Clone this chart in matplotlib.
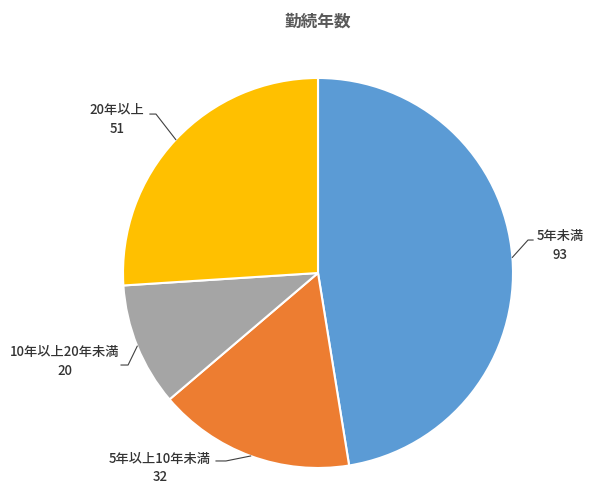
import numpy as np
import matplotlib
matplotlib.use("Agg")
import matplotlib.pyplot as plt

plt.rcParams['font.family'] = ['Noto Sans CJK JP', 'DejaVu Sans']

# data
categories = ['5年未満', '5年以上10年未満', '10年以上20年未満', '20年以上']
counts = [93, 32, 20, 51]
colors = ['#5B9BD5', '#ED7D31', '#A5A5A5', '#FFC000']

# label layout (data coords, pie radius = 1): text centre, elbow, line end at text
label_pos = [(1.24, 0.14), (-0.81, -1.00), (-1.30, -0.455), (-1.03, 0.785)]
elbow_pos = [(1.077, 0.169), (-0.472, -0.964), (-0.974, -0.472), (-0.831, 0.815)]
end_pos = [(1.103, 0.169), (-0.523, -0.964), (-1.010, -0.472), (-0.862, 0.815)]

fig = plt.figure(figsize=(6, 4.92), dpi=100)
fig.text(0.53, 1 - 22 / 492, '勤続年数', ha='center', va='center',
         fontsize=12, fontweight='bold', color='#595959')

ax = fig.add_axes([0.205, 0.0488, 0.65, 0.7927])
wedges, _ = ax.pie(counts, colors=colors, startangle=90, counterclock=False,
                   wedgeprops=dict(edgecolor='white', linewidth=1.5))
ax.set_xlim(-1, 1)
ax.set_ylim(-1, 1)
ax.set_aspect('equal')
ax.axis('off')

for w, cat, n, lp, el, ep in zip(wedges, categories, counts, label_pos, elbow_pos, end_pos):
    mid = np.deg2rad((w.theta1 + w.theta2) / 2)
    edge = (np.cos(mid), np.sin(mid))
    ax.plot([edge[0], el[0], ep[0]], [edge[1], el[1], ep[1]],
            color='#404040', linewidth=0.8, clip_on=False)
    ax.text(lp[0], lp[1], f'{cat}\n{n}', ha='center', va='center',
            fontsize=9.5, fontweight='medium', color='#333333',
            linespacing=1.45, clip_on=False)

fig.savefig('out.png', dpi=100)
